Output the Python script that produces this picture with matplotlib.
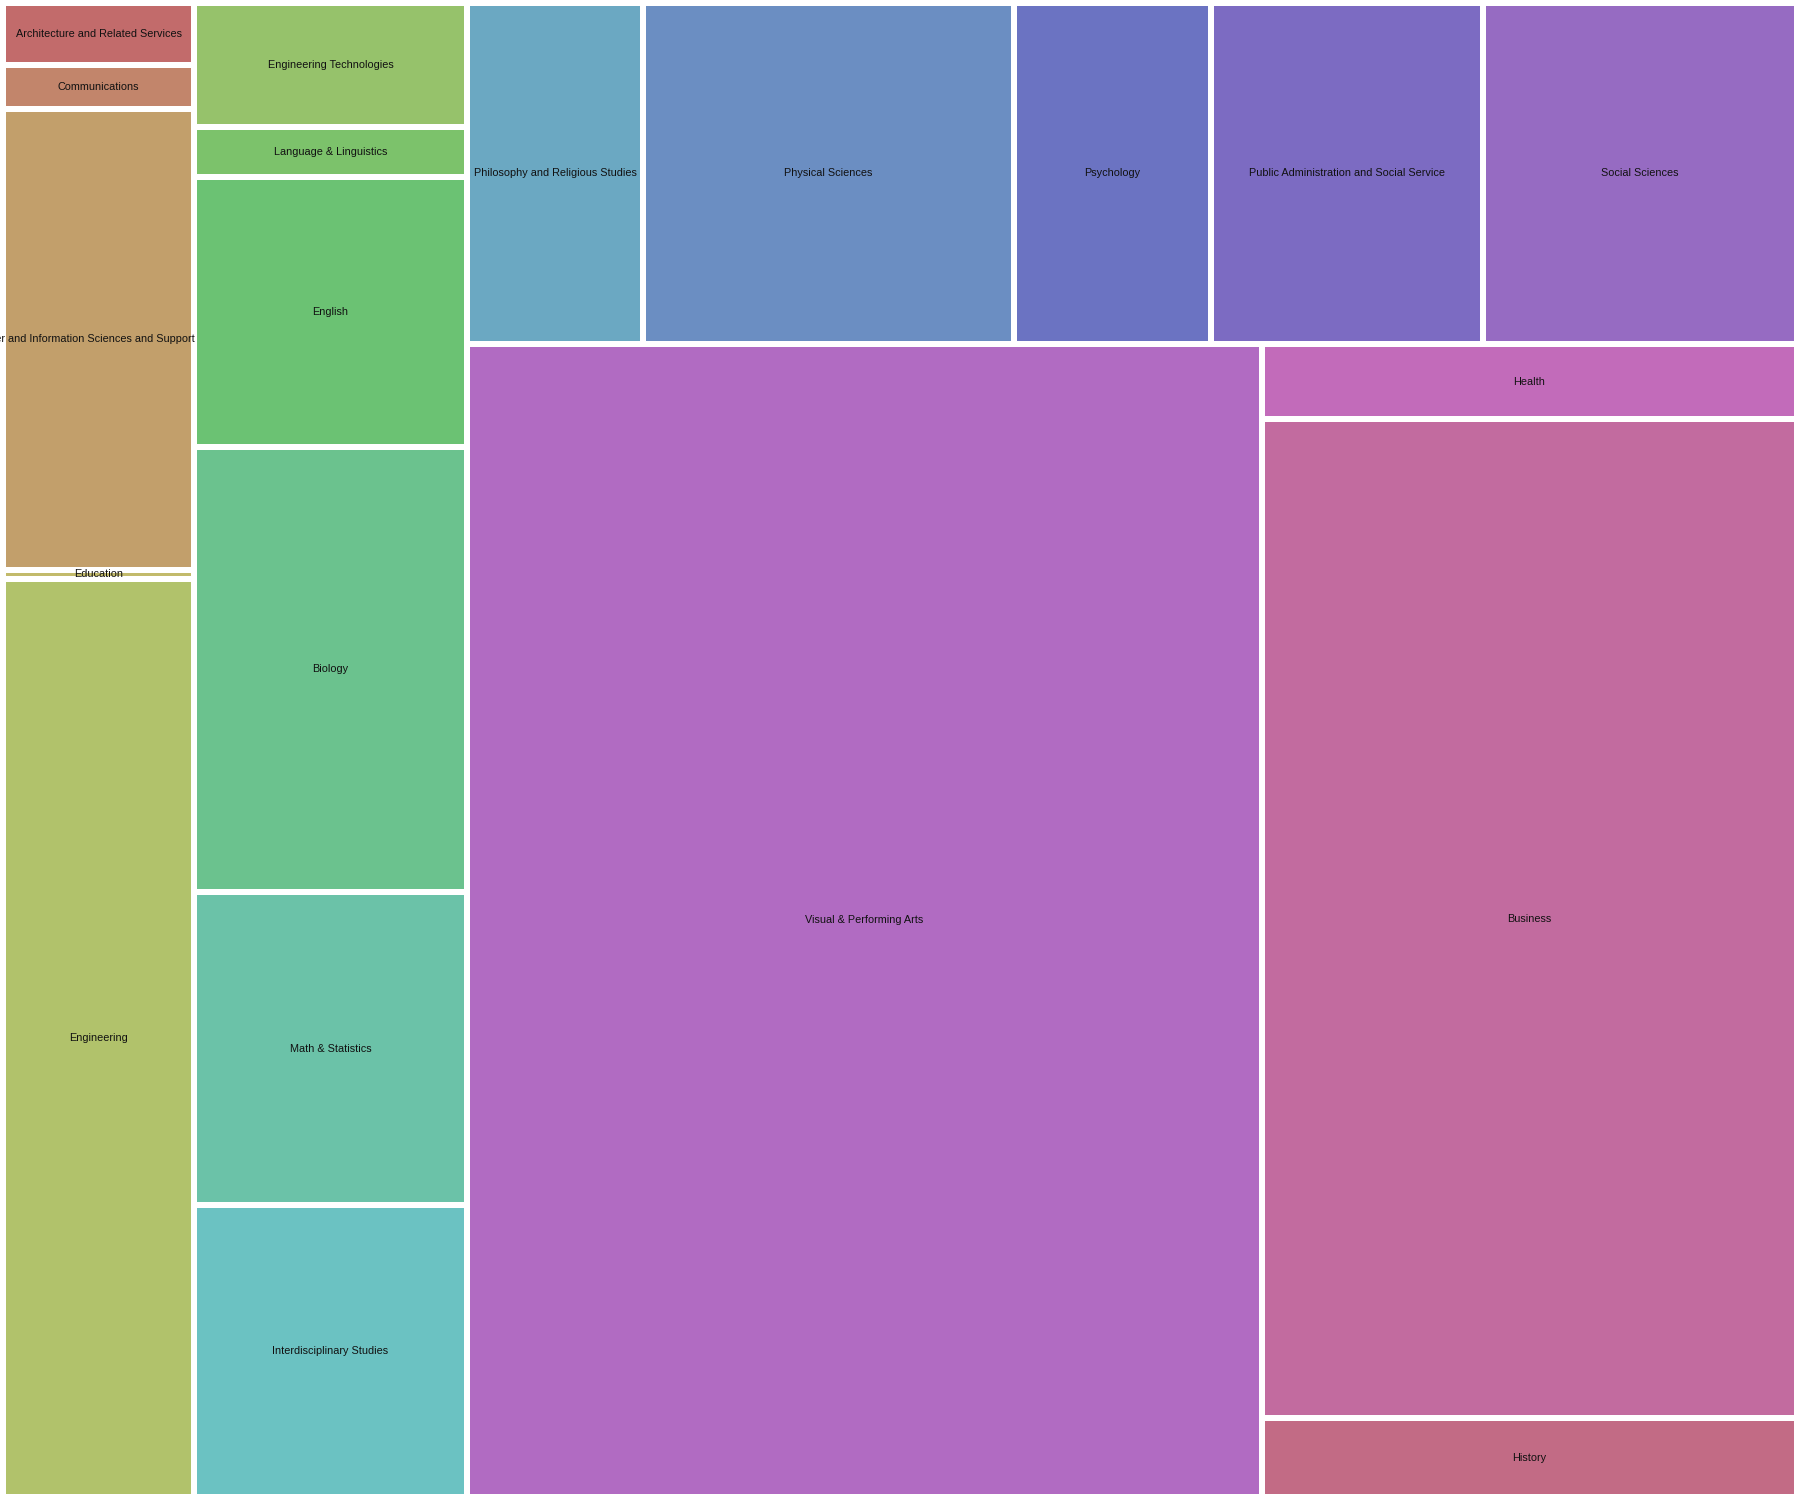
"""Treemap of degrees by field, laid out with the d3 squarify rule."""

from __future__ import annotations

import colorsys

import matplotlib

matplotlib.use("Agg")
import matplotlib.pyplot as plt
from matplotlib.patches import Rectangle
from matplotlib.transforms import Bbox

WIDTH, HEIGHT = 1800, 1500
PAD = 6.0
PHI = (1 + 5 ** 0.5) / 2

FIELDS = [
    "Architecture and Related Services",
    "Communications",
    "Computer and Information Sciences and Support Services",
    "Education",
    "Engineering",
    "Engineering Technologies",
    "Language & Linguistics",
    "English",
    "Biology",
    "Math & Statistics",
    "Interdisciplinary Studies",
    "Philosophy and Religious Studies",
    "Physical Sciences",
    "Psychology",
    "Public Administration and Social Service",
    "Social Sciences",
    "Visual & Performing Arts",
    "Health",
    "Business",
    "History",
]

# share of total, per mille
SHARES = [
    4.42, 3.14, 32.82, 0.64, 65.45,
    12.63, 5.09, 27.50, 45.33, 31.88, 29.74,
    22.39, 47.20, 25.06, 34.54, 40.01,
    342.00, 15.07, 199.41, 15.67,
]


def squarify(values, x0, y0, x1, y1, ratio=PHI):
    """d3.treemapSquarify, values kept in the given order."""
    rects = [None] * len(values)
    total = float(sum(values))
    n = len(values)
    i0 = 0
    while i0 < n:
        dx, dy = x1 - x0, y1 - y0
        i1 = i0
        sum_value = values[i1]
        i1 += 1
        min_v = max_v = sum_value
        alpha = max(dy / dx, dx / dy) / (total * ratio)
        beta = sum_value * sum_value * alpha
        min_ratio = max(max_v / beta, beta / min_v)
        while i1 < n:
            v = values[i1]
            sum_value += v
            min_v, max_v = min(min_v, v), max(max_v, v)
            beta = sum_value * sum_value * alpha
            new_ratio = max(max_v / beta, beta / min_v)
            if new_ratio > min_ratio:
                sum_value -= v
                break
            min_ratio = new_ratio
            i1 += 1

        if dx < dy:
            # dice: a strip across the top
            y_end = y0 + dy * sum_value / total
            k = dx / sum_value
            xx = x0
            for i in range(i0, i1):
                rects[i] = (xx, y0, xx + values[i] * k, y_end)
                xx += values[i] * k
            y0 = y_end
        else:
            # slice: a column on the left
            x_end = x0 + dx * sum_value / total
            k = dy / sum_value
            yy = y0
            for i in range(i0, i1):
                rects[i] = (x0, yy, x_end, yy + values[i] * k)
                yy += values[i] * k
            x0 = x_end
        total -= sum_value
        i0 = i1
    return rects


def main() -> None:
    fig = plt.figure(figsize=(WIDTH / 100, HEIGHT / 100), dpi=100)
    ax = fig.add_axes([0, 0, 1, 1])
    ax.set_xlim(0, WIDTH)
    ax.set_ylim(HEIGHT, 0)
    ax.axis("off")

    n = len(FIELDS)
    colors = [colorsys.hls_to_rgb(i / n, 0.59, 0.42) for i in range(n)]
    half = PAD / 2
    rects = squarify(SHARES, half, half, WIDTH - half, HEIGHT - half)

    for name, color, (x0, y0, x1, y1) in zip(FIELDS, colors, rects):
        x0, y0, x1, y1 = x0 + half, y0 + half, x1 - half, y1 - half
        ax.add_patch(Rectangle((x0, y0), x1 - x0, y1 - y0, facecolor=color, edgecolor="none"))
        txt = ax.text(
            (x0 + x1) / 2, (y0 + y1) / 2, name,
            ha="center", va="center", fontsize=7.8,
            family=["Liberation Sans", "DejaVu Sans"], color="#111111",
        )
        # labels are cut a little past the cell's left and right edges only
        # (set after creation: ax.text puts the axes box in as clip)
        (px0, py0), (px1, py1) = ax.transData.transform([(x0 - PAD, 0), (x1 + PAD, HEIGHT)])
        txt.set_clip_box(Bbox.from_extents(min(px0, px1), min(py0, py1), max(px0, px1), max(py0, py1)))
        txt.set_clip_on(True)

    fig.savefig("out.png", dpi=100, facecolor="white")
    plt.close(fig)


if __name__ == "__main__":
    main()
